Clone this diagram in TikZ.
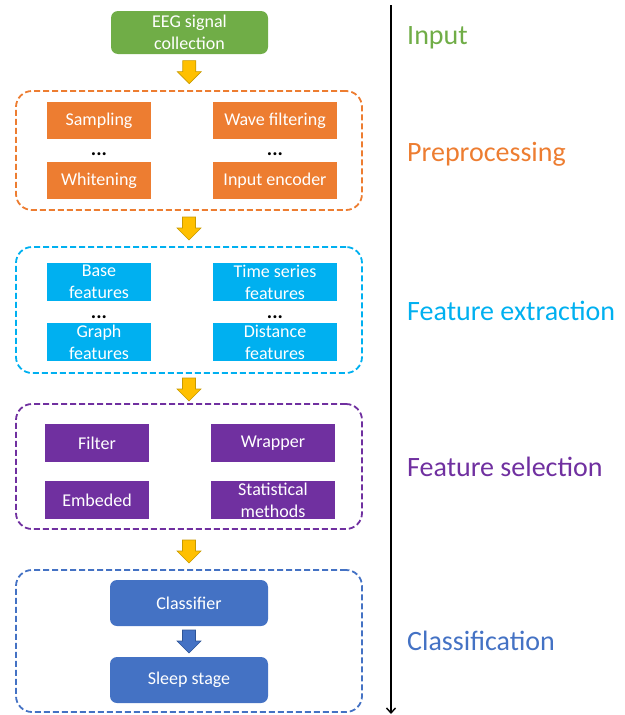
\documentclass[tikz,border=0pt]{standalone}
\usepackage{fontspec}
\setmainfont{Carlito}
\usetikzlibrary{arrows.meta,calc}

\definecolor{cgreen}{HTML}{70AD47}
\definecolor{corange}{HTML}{ED7D31}
\definecolor{ccyan}{HTML}{00B0F0}
\definecolor{cpurple}{HTML}{7030A0}
\definecolor{cblue}{HTML}{4472C4}
\definecolor{cyellow}{HTML}{FFC000}
\definecolor{cyellowdk}{HTML}{C89A00}
\definecolor{cbluedk}{HTML}{2F5597}

\tikzset{
  box/.style={draw=none, text=white, align=center, inner sep=1pt,
    font=\fontsize{18}{22}\selectfont},
  roundbox/.style={box, rounded corners=7pt},
  group/.style={draw, dashed, dash pattern=on 6pt off 3pt, line width=1.8pt,
    rounded corners=16pt, minimum width=346pt},
  dotsnode/.style={anchor=base, inner sep=0pt, font=\fontsize{20}{20}\selectfont\bfseries},
  stage/.style={anchor=base west, inner sep=0pt, font=\fontsize{28}{30}\selectfont},
  fatarrow/.style={line width=0.6pt, line join=miter}
}

% block arrow centred on a coordinate
\newcommand\blockarrow[3]{%
  \draw[fatarrow, fill=#2, draw=#3] #1 ++(-6.5,-11.5) -- ++(13,0) -- ++(0,11)
    -- ++(5.5,0) -- ++(-12,12) -- ++(-12,-12) -- ++(5.5,0) -- cycle;}

\begin{document}
\begin{tikzpicture}[x=1pt,y=-1pt]
\useasboundingbox (0,0) rectangle (624,715);

% input
\node[roundbox, fill=cgreen, minimum width=157pt, minimum height=43pt] (eeg) at (189.5,32.5) {EEG signal\\collection};

% preprocessing group
\node[group, draw=corange, minimum height=119pt] (pre) at (189,150.5) {};
\node[box, fill=corange, minimum width=104pt, minimum height=37pt] (samp) at (99,120.5) {Sampling};
\node[box, fill=corange, minimum width=124pt, minimum height=37pt] (wave) at (275,120.5) {Wave filtering};
\node[box, fill=corange, minimum width=104pt, minimum height=37pt] (white) at (99,180.5) {Whitening};
\node[box, fill=corange, minimum width=124pt, minimum height=37pt] (enc) at (275,180.5) {Input encoder};
\node[dotsnode] (pdl) at (99,155) {...};
\node[dotsnode] (pdr) at (275,155) {...};

% feature extraction group
\node[group, draw=ccyan, minimum height=126pt] (ext) at (189,310) {};
\node[box, fill=ccyan, minimum width=104pt, minimum height=38pt] (base) at (99,282) {Base\\features};
\node[box, fill=ccyan, minimum width=124pt, minimum height=38pt] (ts) at (275,282) {Time series\\features};
\node[box, fill=ccyan, minimum width=104pt, minimum height=38pt] (graph) at (99,342) {Graph\\features};
\node[box, fill=ccyan, minimum width=124pt, minimum height=38pt] (dist) at (275,342) {Distance\\features};
\node[dotsnode] (edl) at (99,318) {...};
\node[dotsnode] (edr) at (275,318) {...};

% feature selection group
\node[group, draw=cpurple, minimum height=125pt] (sel) at (189,466.5) {};
\node[box, fill=cpurple, minimum width=104pt, minimum height=38pt] (filt) at (97,443) {Filter};
\node[box, fill=cpurple, minimum width=124pt, minimum height=38pt] (wrap) at (273,443) {Wrapper};
\node[box, fill=cpurple, minimum width=104pt, minimum height=38pt] (emb) at (97,500) {Embeded};
\node[box, fill=cpurple, minimum width=124pt, minimum height=38pt] (stat) at (273,500) {Statistical\\methods};

% classification group
\node[group, draw=cblue, minimum height=142pt] (cls) at (189,641) {};
\node[roundbox, fill=cblue, minimum width=158pt, minimum height=46pt] (clf) at (189,603) {Classifier};
\node[roundbox, fill=cblue, minimum width=158pt, minimum height=46pt] (sleep) at (189,680) {Sleep stage};

% block arrows between the stages
\blockarrow{($(eeg.south)!0.5!(pre.north)$)}{cyellow}{cyellowdk}
\blockarrow{($(pre.south)!0.5!(ext.north)$)}{cyellow}{cyellowdk}
\blockarrow{($(ext.south)!0.5!(sel.north)+(0,1)$)}{cyellow}{cyellowdk}
\blockarrow{($(sel.south)!0.5!(cls.north)+(0,2)$)}{cyellow}{cyellowdk}
\blockarrow{($(clf.south)!0.5!(sleep.north)$)}{cblue}{cbluedk}

% time axis
\coordinate (axtop) at (391,5);
\coordinate (axbot) at (391,714);
\draw[line width=1.4pt, -{Straight Barb[length=5pt,width=9pt]}] (axtop) -- (axbot);

% stage labels
\node[stage, text=cgreen] (lin) at (407,44) {Input};
\node[stage, text=corange] (lpre) at (407,161) {Preprocessing};
\node[stage, text=ccyan] (lext) at (407,320) {Feature extraction};
\node[stage, text=cpurple] (lsel) at (407,476) {Feature selection};
\node[stage, text=cblue] (lcls) at (407,650) {Classification};
\end{tikzpicture}
\end{document}
